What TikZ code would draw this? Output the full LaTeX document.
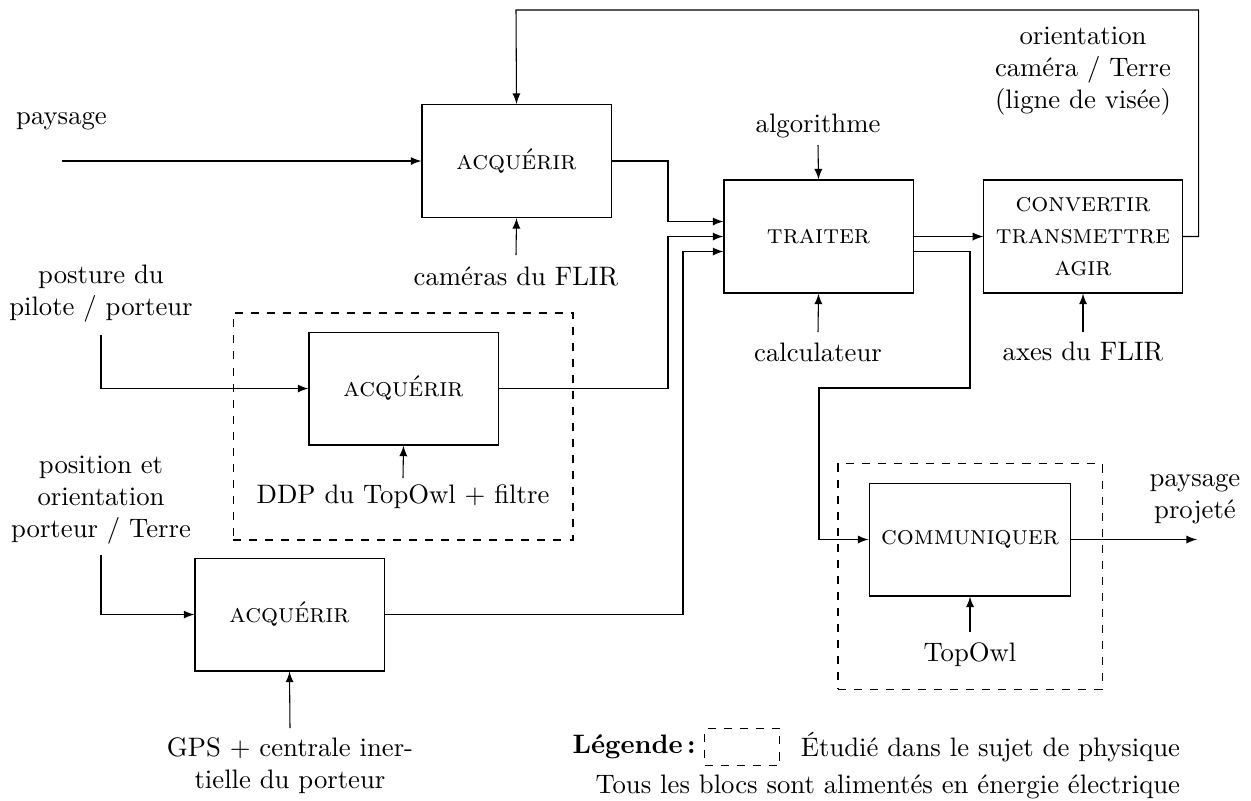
\documentclass[tikz,border=0pt]{standalone}
\usepackage{fontspec}
\usetikzlibrary{calc}
\begin{document}
\begin{tikzpicture}[x=0.3745pt,y=-0.3745pt,
  blk/.style={draw, minimum width=70.8pt, minimum height=42.3pt, font=\scshape, align=center, inner sep=2pt},
  lbl/.style={align=center, inner sep=0pt},
  arr/.style={-latex},
  studied/.style={draw, dashed, inner sep=0pt}]
\useasboundingbox (0,0) rectangle (1251,800);
% dashed "studied" frames
\node[studied, minimum width=127.3pt, minimum height=85pt] (S1) at (403,426.5) {};
\node[studied, minimum width=98.9pt, minimum height=84.3pt] (S2) at (970,576.5) {};
% blocks
\node[blk] (A1) at (516.5,161) {acquérir};
\node[blk] (T) at (818.5,236.5) {traiter};
\node[blk, minimum width=74.2pt] (C) at (1083,236.5) {convertir\\transmettre\\agir};
\node[blk] (A2) at (403.5,388.5) {acquérir};
\node[blk] (A3) at (289.5,614.5) {acquérir};
\node[blk, minimum width=75.6pt] (M) at (970,539.5) {communiquer};
% labels
\node[lbl] (lpay) at (61.5,121) {paysage};
\node[lbl] (lalg) at (818,126) {algorithme};
\node[lbl] (lcam) at (516,276) {caméras du FLIR};
\node[lbl] (lori) at (1083,71) {orientation\\caméra / Terre\\(ligne de visée)};
\node[lbl] (lpos) at (101,294) {posture du\\pilote / porteur};
\node[lbl] (lddp) at (403,497) {DDP du TopOwl + filtre};
\node[lbl] (lcal) at (818,352) {calculateur};
\node[lbl] (laxe) at (1083,352) {axes du FLIR};
\node[lbl] (lpor) at (101,500) {position et\\orientation\\porteur / Terre};
\node[lbl] (lpro) at (1195,499) {paysage\\projeté};
\node[lbl] (ltop) at (970,655) {TopOwl};
\node[lbl] (lgps) at (290,766) {GPS + centrale iner-\\tielle du porteur};
% free ends
\coordinate (pay0) at (62,161);
\coordinate (alg0) at (818,145);
\coordinate (cam0) at (516,255);
\coordinate (cal0) at (818,332);
\coordinate (axe0) at (1083,332);
\coordinate (pos0) at (101,335);
\coordinate (ddp0) at (403,478);
\coordinate (por0) at (101,555);
\coordinate (gps0) at (290,728);
\coordinate (top0) at (970,632);
\coordinate (pro0) at (1197,539.5);
% connectors
\draw[arr] (pay0) -- (A1.west);
\draw[arr] (cam0) -- (A1.south);
\draw[arr] (C.east) -- ++(16,0) |- (516,10) -- (A1.north);
\draw[arr] (A1.east) -- (668,161) |- ($(T.west)+(0,-15)$);
\draw[arr] (A2.east) -- (668,388.5) |- (T.west);
\draw[arr] (A3.east) -- (683,614.5) |- ($(T.west)+(0,15)$);
\draw[arr] (alg0) -- (T.north);
\draw[arr] (cal0) -- (T.south);
\draw[arr] (T.east) -- (C.west);
\draw[arr] ($(T.east)+(0,15)$) -- (970,251.5) -- (970,388) -- (819,388) |- (M.west);
\draw[arr] (axe0) -- (C.south);
\draw[arr] (pos0) |- (A2.west);
\draw[arr] (ddp0) -- (A2.south);
\draw[arr] (por0) |- (A3.west);
\draw[arr] (gps0) -- (A3.south);
\draw[arr] (M.east) -- (pro0);
\draw[arr] (top0) -- (M.south);
% legend
\node[lbl, anchor=west] (ltous) at (595,787) {Tous les blocs sont alimentés en énergie électrique};
\node[lbl, anchor=east] (letu) at (ltous.east |- 0,747) {Étudié dans le sujet de physique};
\node[studied, minimum width=28.1pt, minimum height=13.9pt, anchor=east] (Lbox) at ($(letu.west)+(-20,0)$) {};
\node[lbl, font=\bfseries, anchor=east] (lleg) at ($(Lbox.west)+(-8,0)$) {Légende\,:};
\end{tikzpicture}
\end{document}
